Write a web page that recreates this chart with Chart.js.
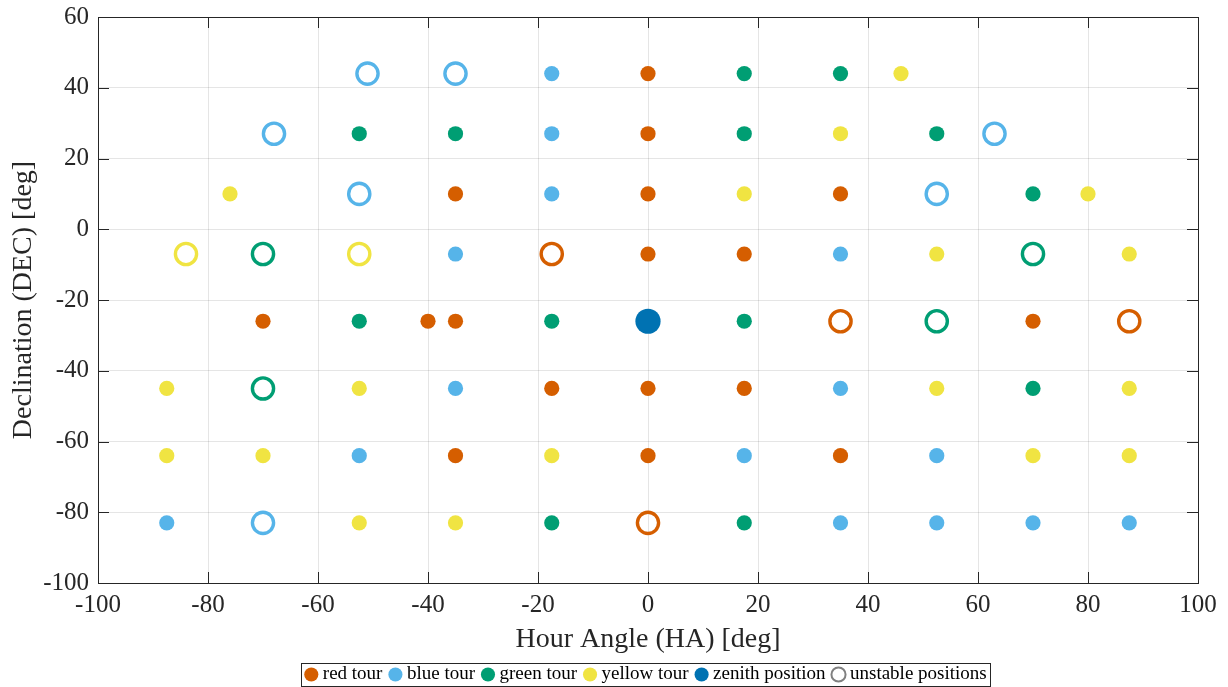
<!DOCTYPE html>
<html>
<head>
<meta charset="utf-8">
<script src="https://cdn.jsdelivr.net/npm/chart.js@4.4.1/dist/chart.umd.min.js"></script>
<style>
  html, body { margin: 0; padding: 0; background: #fff; }
  canvas { display: block; }
</style>
</head>
<body>
<canvas id="chart" width="1228" height="687"></canvas>
<script>
// axis ranges (deg)
const haRange = [-100, 100];
const decRange = [-100, 60];
const tickStep = 20;

// [HA, DEC] of each pointing, grouped by tour
const redTour = [[0, 44], [0, 27], [-35, 10], [0, 10], [35, 10], [0, -7], [17.5, -7],
  [-70, -26], [-40, -26], [-35, -26], [70, -26], [-17.5, -45], [0, -45], [17.5, -45],
  [-35, -64], [0, -64], [35, -64]];
const blueTour = [[-17.5, 44], [-17.5, 27], [-17.5, 10], [-35, -7], [35, -7], [-35, -45],
  [35, -45], [-52.5, -64], [17.5, -64], [52.5, -64], [-87.5, -83], [35, -83], [52.5, -83],
  [70, -83], [87.5, -83]];
const greenTour = [[17.5, 44], [35, 44], [-52.5, 27], [-35, 27], [17.5, 27], [52.5, 27],
  [70, 10], [-52.5, -26], [-17.5, -26], [17.5, -26], [70, -45], [-17.5, -83], [17.5, -83]];
const yellowTour = [[46, 44], [35, 27], [-76, 10], [17.5, 10], [80, 10], [52.5, -7], [87.5, -7],
  [-87.5, -45], [-52.5, -45], [52.5, -45], [87.5, -45], [-87.5, -64], [-70, -64], [-17.5, -64],
  [70, -64], [87.5, -64], [-52.5, -83], [-35, -83]];
const zenith = [[0, -26]];

// unstable positions, same tour colours
const redUnstable = [[-17.5, -7], [35, -26], [87.5, -26], [0, -83]];
const blueUnstable = [[-51, 44], [-35, 44], [-68, 27], [63, 27], [-52.5, 10], [52.5, 10], [-70, -83]];
const greenUnstable = [[-70, -7], [70, -7], [52.5, -26], [-70, -45]];
const yellowUnstable = [[-84, -7], [-52.5, -7]];

const colors = {
  red: '#D55E00',
  blue: '#56B4E9',
  green: '#009E73',
  yellow: '#F0E442',
  zenith: '#0072B2',
  unstable: '#808080'
};

const toXY = pts => pts.map(([x, y]) => ({x, y}));

function filled(label, pts, color, r = 7.6) {
  return {
    label, data: toXY(pts),
    pointRadius: r, pointBorderWidth: 0,
    pointBackgroundColor: color, pointBorderColor: color,
    backgroundColor: color, borderColor: color
  };
}

function ring(label, pts, color, width = 3.4) {
  return {
    label, data: toXY(pts),
    pointRadius: 10.6, pointBorderWidth: width,
    pointBackgroundColor: 'rgba(255,255,255,0)', pointBorderColor: color,
    backgroundColor: '#fff', borderColor: color
  };
}

const serif = "'Liberation Serif', 'Times New Roman', serif";
const ink = '#262626';

// inward ticks on all four sides plus the closed axes box
const axesBox = {
  id: 'axesBox',
  afterDatasetsDraw(chart) {
    const {ctx, chartArea: {left, right, top, bottom}, scales: {x, y}} = chart;
    const len = 11;
    ctx.save();
    ctx.strokeStyle = ink;
    ctx.lineWidth = 1;
    ctx.beginPath();
    x.ticks.forEach(t => {
      const px = Math.round(x.getPixelForValue(t.value)) + 0.5;
      ctx.moveTo(px, bottom); ctx.lineTo(px, bottom - len);
      ctx.moveTo(px, top); ctx.lineTo(px, top + len);
    });
    y.ticks.forEach(t => {
      const py = Math.round(y.getPixelForValue(t.value)) + 0.5;
      ctx.moveTo(left, py); ctx.lineTo(left + len, py);
      ctx.moveTo(right, py); ctx.lineTo(right - len, py);
    });
    ctx.stroke();
    ctx.strokeRect(Math.round(left) + 0.5, Math.round(top) + 0.5,
      Math.round(right - left), Math.round(bottom - top));
    ctx.restore();
  }
};

// centre the legend under the plot and frame it
const legendFrame = {
  id: 'legendFrame',
  afterLayout(chart) {
    const lg = chart.legend;
    lg.left = chart.chartArea.left;
    lg.right = chart.chartArea.right;
    lg.width = lg.right - lg.left;
    lg.top = 654;
  },
  afterDraw(chart) {
    const hb = chart.legend.legendHitBoxes;
    if (!hb || !hb.length) return;
    const first = hb[0], last = hb[hb.length - 1];
    const x0 = Math.round(first.left - 8) + 0.5;
    const x1 = Math.round(last.left + last.width + 3) + 0.5;
    const y0 = Math.round(first.top - 2) + 0.5;
    const y1 = Math.round(first.top + first.height + 2) + 0.5;
    const ctx = chart.ctx;
    ctx.save();
    ctx.strokeStyle = ink;
    ctx.lineWidth = 1;
    ctx.strokeRect(x0, y0, x1 - x0, y1 - y0);
    ctx.restore();
  }
};

new Chart(document.getElementById('chart'), {
  type: 'scatter',
  data: {
    datasets: [
      filled('red tour', redTour, colors.red),
      filled('blue tour', blueTour, colors.blue),
      filled('green tour', greenTour, colors.green),
      filled('yellow tour', yellowTour, colors.yellow),
      filled('zenith position', zenith, colors.zenith, 12.6),
      ring('red tour (unstable)', redUnstable, colors.red),
      ring('blue tour (unstable)', blueUnstable, colors.blue),
      ring('green tour (unstable)', greenUnstable, colors.green),
      ring('yellow tour (unstable)', yellowUnstable, colors.yellow),
      ring('unstable positions', [], colors.unstable, 2)
    ]
  },
  options: {
    responsive: false,
    animation: false,
    events: [],
    layout: { padding: { top: 17, right: 30, bottom: -12, left: 0 } },
    scales: {
      x: {
        type: 'linear',
        min: haRange[0], max: haRange[1],
        ticks: { stepSize: tickStep, padding: 7.5, color: ink, font: { family: serif, size: 25 } },
        grid: { color: 'rgba(38,38,38,0.12)', drawTicks: false },
        border: { display: false },
        title: {
          display: true, text: 'Hour Angle (HA) [deg]', color: ink,
          font: { family: serif, size: 28 }, padding: { top: 2, bottom: 3 }
        },
        afterFit(scale) {
          scale.height = 76;
          scale.paddingLeft = 0;
          scale.paddingRight = 0;
        }
      },
      y: {
        type: 'linear',
        min: decRange[0], max: decRange[1],
        ticks: { stepSize: tickStep, padding: 9, color: ink, font: { family: serif, size: 25 } },
        grid: { color: 'rgba(38,38,38,0.12)', drawTicks: false },
        border: { display: false },
        title: {
          display: true, text: 'Declination (DEC) [deg]', color: ink,
          font: { family: serif, size: 28 }, padding: { top: 7, bottom: 3 }
        },
        afterFit(scale) {
          scale.width = 98;
          scale.paddingTop = 0;
          scale.paddingBottom = 0;
        }
      }
    },
    plugins: {
      tooltip: { enabled: false },
      legend: {
        position: 'bottom',
        labels: {
          usePointStyle: true,
          boxWidth: 4,
          boxHeight: 10,
          padding: 11,
          color: '#000',
          font: { family: serif, size: 19 },
          filter: item => !item.text.includes('(unstable)')
        }
      }
    }
  },
  plugins: [axesBox, legendFrame]
});
</script>
</body>
</html>
